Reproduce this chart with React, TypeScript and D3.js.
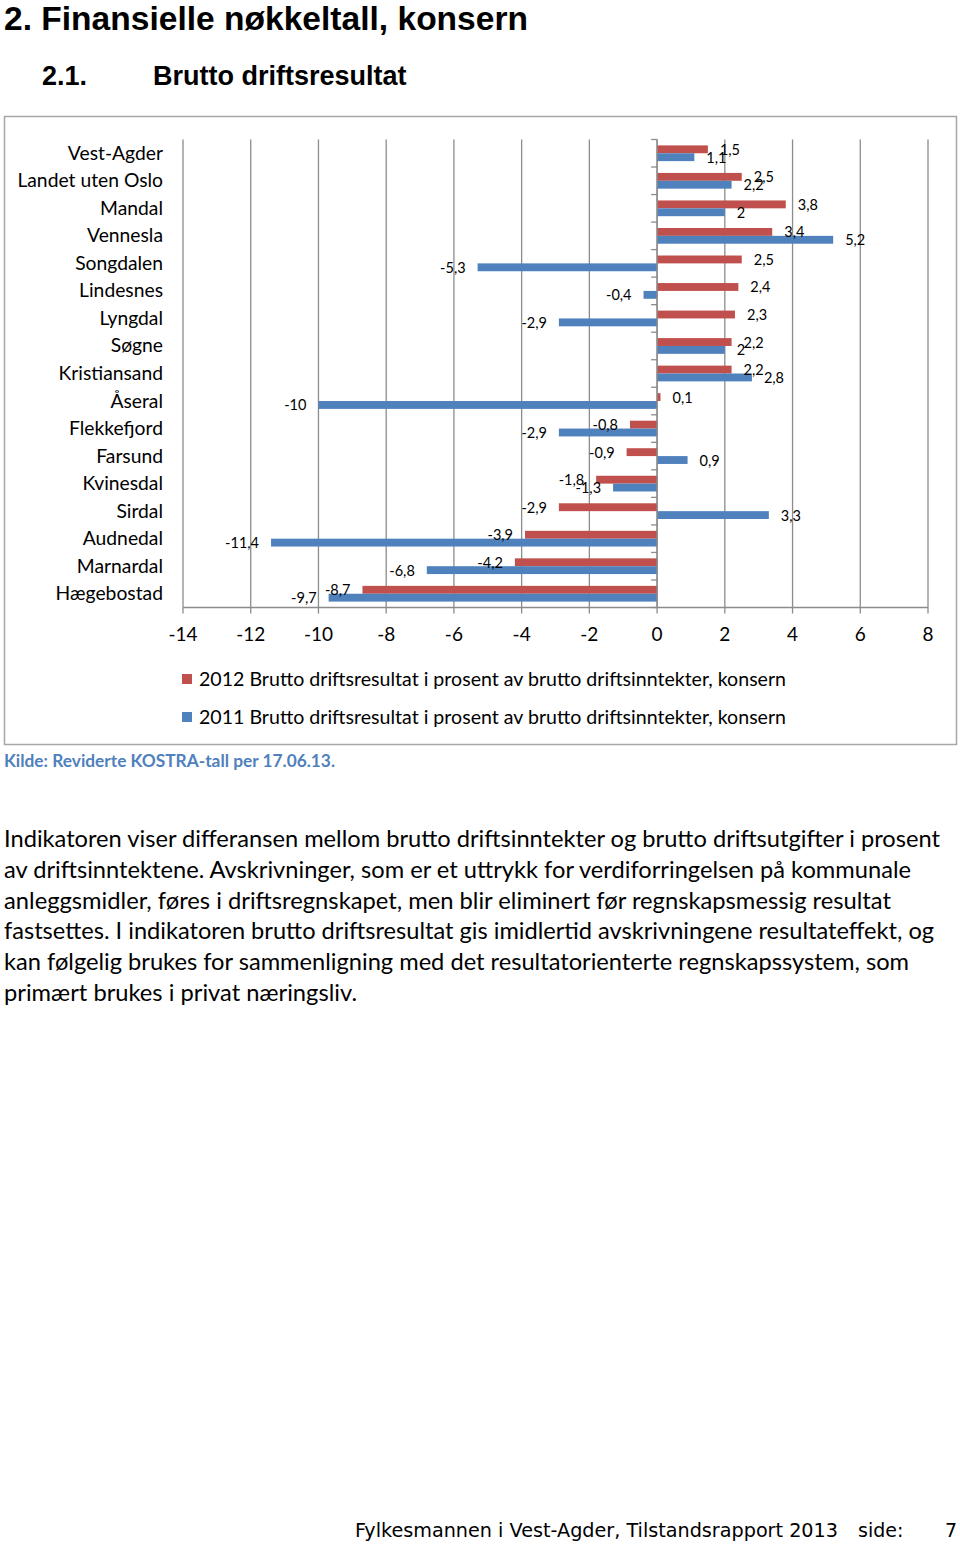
import React from "react";
import * as d3 from "d3";

const categories = [
  "Vest-Agder", "Landet uten Oslo", "Mandal", "Vennesla", "Songdalen", "Lindesnes",
  "Lyngdal", "Søgne", "Kristiansand", "Åseral", "Flekkefjord", "Farsund",
  "Kvinesdal", "Sirdal", "Audnedal", "Marnardal", "Hægebostad",
];
const values2012 = [1.5, 2.5, 3.8, 3.4, 2.5, 2.4, 2.3, 2.2, 2.2, 0.1, -0.8, -0.9, -1.8, -2.9, -3.9, -4.2, -8.7];
const values2011 = [1.1, 2.2, 2, 5.2, -5.3, -0.4, -2.9, 2, 2.8, -10, -2.9, 0.9, -1.3, 3.3, -11.4, -6.8, -9.7];
const seriesNames = [
  "2012 Brutto driftsresultat i prosent av brutto driftsinntekter, konsern",
  "2011 Brutto driftsresultat i prosent av brutto driftsinntekter, konsern",
];
const xTicks = [-14, -12, -10, -8, -6, -4, -2, 0, 2, 4, 6, 8];
const bodyLines = [
  "Indikatoren viser differansen mellom brutto driftsinntekter og brutto driftsutgifter i prosent",
  "av driftsinntektene. Avskrivninger, som er et uttrykk for verdiforringelsen på kommunale",
  "anleggsmidler, føres i driftsregnskapet, men blir eliminert før regnskapsmessig resultat",
  "fastsettes. I indikatoren brutto driftsresultat gis imidlertid avskrivningene resultateffekt, og",
  "kan følgelig brukes for sammenligning med det resultatorienterte regnskapssystem, som",
  "primært brukes i privat næringsliv.",
];
const bodyWidths = [936, 907, 887, 930, 905, 353];

const RED = "#C0504D";
const BLUE = "#4F81BD";
const GRID = "#8c8c8c";
const CAL = "Lato, 'Open Sans', sans-serif";
const ARIAL = "'Liberation Sans', Arial, sans-serif";

const fmt = (v: number) => String(v).replace(".", ",");

export default function App() {
  const x = d3.scaleLinear().domain([-14, 8]).range([183, 928]);
  const y = d3.scaleBand<string>().domain(categories).range([139.5, 607.5]).padding(0);
  const bw = y.bandwidth();
  const inner = d3.scaleBand<string>().domain(["2012", "2011"]).range([0, bw]).paddingInner(0).paddingOuter(0.75);
  const barH = inner.bandwidth();
  const x0 = x(0);
  const [yTop, yBot] = y.range();

  const series = [
    { key: "2012", values: values2012, color: RED },
    { key: "2011", values: values2011, color: BLUE },
  ];

  return (
    <svg width={960} height={1544} style={{ position: "absolute", left: 0, top: 0, background: "#fff" }}>
      <rect x={0} y={0} width={960} height={1544} fill="#fff" />
      {/* Headings */}
      <text x={4} y={30} fontFamily={ARIAL} fontWeight="bold" fontSize={33} fill="#000" textLength={524} lengthAdjust="spacingAndGlyphs">
        2. Finansielle nøkkeltall, konsern
      </text>
      <text x={42} y={85} fontFamily={ARIAL} fontWeight="bold" fontSize={27} fill="#000">
        2.1.
      </text>
      <text x={153} y={85} fontFamily={ARIAL} fontWeight="bold" fontSize={27} fill="#000">
        Brutto driftsresultat
      </text>

      {/* Chart frame */}
      <rect x={4.5} y={116.5} width={952} height={628} fill="#fff" stroke="#a6a6a6" strokeWidth={1.5} />

      {/* Gridlines */}
      {xTicks.map((t) => (
        <line key={"g" + t} x1={x(t)} x2={x(t)} y1={yTop} y2={yBot} stroke={GRID} strokeWidth={1.3} />
      ))}

      {/* Bars */}
      {series.map((s) =>
        s.values.map((v, i) => {
          const yy = (y(categories[i]) as number) + (inner(s.key) as number);
          return (
            <rect
              key={s.key + i}
              x={Math.min(x(v), x0)}
              y={yy}
              width={Math.abs(x(v) - x0)}
              height={barH}
              fill={s.color}
            />
          );
        })
      )}

      {/* Axes */}
      <line x1={x0} x2={x0} y1={yTop} y2={yBot} stroke={GRID} strokeWidth={1.3} />
      {d3.range(categories.length + 1).map((i) => (
        <line key={"yt" + i} x1={x0 - 6} x2={x0} y1={yTop + i * bw} y2={yTop + i * bw} stroke={GRID} strokeWidth={1.3} />
      ))}
      <line x1={x(-14)} x2={x(8)} y1={yBot} y2={yBot} stroke={GRID} strokeWidth={1.3} />
      {xTicks.map((t) => (
        <line key={"xt" + t} x1={x(t)} x2={x(t)} y1={yBot} y2={yBot + 6} stroke={GRID} strokeWidth={1.3} />
      ))}
      {xTicks.map((t) => (
        <text key={"xl" + t} x={x(t)} y={641} textAnchor="middle" fontFamily={CAL} fontSize={19} fill="#000">
          {String(t)}
        </text>
      ))}

      {/* Category labels */}
      {categories.map((c) => (
        <text key={"c" + c} x={163} y={(y(c) as number) + bw / 2 + 6.5} textAnchor="end" fontFamily={CAL} fontSize={19.3} fill="#000">
          {c}
        </text>
      ))}

      {/* Data labels */}
      {series.map((s) =>
        s.values.map((v, i) => {
          const cy = (y(categories[i]) as number) + (inner(s.key) as number) + barH / 2;
          const pos = v >= 0;
          return (
            <text
              key={"dl" + s.key + i}
              x={pos ? x(v) + 12 : x(v) - 12}
              y={cy + 5.5}
              textAnchor={pos ? "start" : "end"}
              fontFamily={CAL}
              fontSize={14.5}
              fill="#000"
            >
              {fmt(v)}
            </text>
          );
        })
      )}

      {/* Legend */}
      {series.map((s, i) => (
        <g key={"lg" + s.key}>
          <rect x={182} y={674 + i * 38} width={10} height={10} fill={s.color} />
          <text x={199} y={685.5 + i * 38} fontFamily={CAL} fontSize={18.5} fill="#000" textLength={587} lengthAdjust="spacingAndGlyphs">
            {seriesNames[i]}
          </text>
        </g>
      ))}

      {/* Source */}
      <text x={4} y={767} fontFamily={CAL} fontWeight="bold" fontSize={16.5} fill="#4F81BD" textLength={331} lengthAdjust="spacingAndGlyphs">
        Kilde: Reviderte KOSTRA-tall per 17.06.13.
      </text>

      {/* Body text */}
      {bodyLines.map((l, i) => (
        <text
          key={"b" + i}
          x={4}
          y={847 + i * 30.8}
          fontFamily={CAL}
          fontSize={23}
          fill="#000"
          textLength={bodyWidths[i]}
          lengthAdjust="spacingAndGlyphs"
        >
          {l}
        </text>
      ))}

      {/* Footer */}
      <text x={355} y={1537} fontFamily="'DejaVu Sans', Verdana, sans-serif" fontSize={19} fill="#000" textLength={483} lengthAdjust="spacingAndGlyphs">
        Fylkesmannen i Vest-Agder, Tilstandsrapport 2013
      </text>
      <text x={858} y={1537} fontFamily="'DejaVu Sans', Verdana, sans-serif" fontSize={19} fill="#000">
        side:
      </text>
      <text x={945} y={1537} fontFamily="'DejaVu Sans', Verdana, sans-serif" fontSize={19} fill="#000">
        7
      </text>
    </svg>
  );
}
